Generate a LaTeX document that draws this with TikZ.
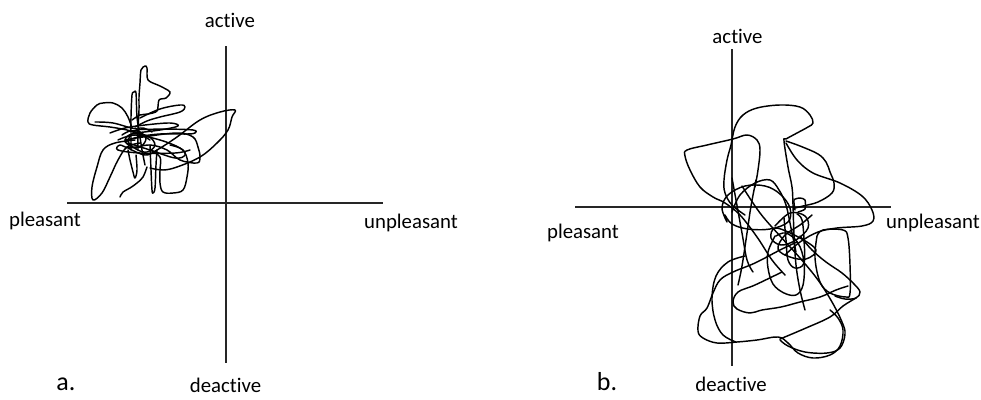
\documentclass[tikz,border=0pt]{standalone}
\usepackage{fontspec}
\setmainfont[Ligatures=NoCommon]{Carlito}
\begin{document}
\begin{tikzpicture}[x=1pt,y=-1pt,
  axisline/.style={line width=1.6pt,black!85},
  scrib/.style={line width=1.45pt,black,line join=round,line cap=round},
  lbl/.style={anchor=base,inner sep=0pt,font=\fontsize{20.8}{24}\selectfont},
  tag/.style={anchor=base,inner sep=0pt,font=\fontsize{26}{28}\selectfont}]
\useasboundingbox (0,0) rectangle (981,399);
% ---------- panel a ----------
\coordinate (aT) at (226,46);
\coordinate (aB) at (226,363);
\coordinate (aL) at (67,203);
\coordinate (aR) at (383,203);
\draw[axisline] (aT) -- (aB);
\draw[axisline] (aL) -- (aR);
\node[lbl] (aact) at (230,27) {active};
\node[lbl] (aple) at (45,226) {pleasant};
\node[lbl] (aunp) at (411,228) {unpleasant};
\node[lbl] (adea) at (225.5,392) {deactive};
\node[tag] (alab) at (66,390) {a.};
\begin{scope}[scrib]
\draw plot[smooth,tension=0.6] coordinates {(132,128) (128,117) (122,108) (113,103) (103,103) (97,105) (90,113) (88,122) (93,125) (110,127) (127,130) (140,134) (150,140)};
\draw plot[smooth,tension=0.6] coordinates {(95,122) (113,123) (137,129) (165,129) (193,130) (195,133) (187,134) (160,134) (138,137) (125,142)};
\draw plot[smooth,tension=0.5] coordinates {(138,150) (138,130) (139,110) (139,97) (140,83) (141,70) (145,66) (147,68) (148,80) (160,86) (170,92) (166,98) (159,100) (157,111) (148,114) (140,115) (132,120)};
\draw plot[smooth,tension=0.5] coordinates {(131,150) (131,137) (131,117) (132,95) (134,92) (136,93) (137,117) (140,137) (142,150) (145,165)};
\draw plot[smooth,tension=0.6] coordinates {(140,118) (160,109) (180,105) (185,107) (180,112) (160,117) (147,121) (135,127)};
\draw plot[smooth,tension=0.6] coordinates {(128,148) (145,155) (157,150) (177,137) (200,120) (220,112) (235,110) (232,117) (228,130) (217,143) (200,157) (177,167) (163,170) (150,168)};
\draw plot[smooth,tension=0.6] coordinates {(125,140) (143,137) (177,133) (193,137) (198,147) (200,157) (197,163) (180,160) (167,150) (150,145) (130,148) (120,145) (118,150) (140,153) (175,153) (190,150)};
\draw plot[smooth,tension=0.6] coordinates {(150,150) (160,157) (160,170) (160,183) (163,192) (173,193) (183,190) (187,177) (188,163) (183,150) (170,145)};
\draw plot[smooth,tension=0.6] coordinates {(135,140) (115,143) (103,150) (97,167) (92,187) (93,200) (102,193) (110,177) (118,160) (127,147) (140,143)};
\draw plot[smooth,tension=0.6] coordinates {(120,197) (123,192) (130,188) (137,183) (143,177) (147,167)};
\draw plot[smooth,tension=0.6] coordinates {(150,145) (151,170) (152,190) (153,193) (155,188) (156,165) (157,150)};
\draw plot[smooth,tension=0.6] coordinates {(128,150) (130,160) (133,172) (135,178) (137,170) (136,155)};
\draw plot[smooth,tension=0.6] coordinates {(122,135) (130,131) (140,132) (146,139) (140,147) (130,146) (125,140) (132,134) (148,136) (155,145) (147,152) (136,149) (128,140) (140,128) (152,132)};
\draw plot[smooth,tension=0.6] coordinates {(118,140) (135,135) (160,140) (180,148) (185,155) (175,158) (150,150) (128,143)};
\draw plot[smooth,tension=0.6] coordinates {(110,133) (125,128) (145,125) (170,123) (178,126) (160,130) (135,133)};
\end{scope}
% ---------- panel b ----------
\coordinate (bT) at (731.7,49);
\coordinate (bB) at (731.7,366);
\coordinate (bL) at (575,206.7);
\coordinate (bR) at (891,206.7);
\draw[axisline] (bT) -- (bB);
\draw[axisline] (bL) -- (bR);
\node[lbl] (bact) at (737.5,43) {active};
\node[lbl] (bple) at (583,238) {pleasant};
\node[lbl] (bunp) at (933,228) {unpleasant};
\node[lbl] (bdea) at (731,391) {deactive};
\node[tag] (blab) at (607,390) {b.};
\begin{scope}[scrib]
\draw plot[smooth,tension=0.6] coordinates {(745,215) (732,205) (725,193) (724,180) (727,160) (731,145) (735,127) (743,115) (757,108) (780,105) (800,107) (810,115) (813,123) (808,127) (797,133) (786,139) (784,141) (788,167) (792,187) (793,205) (794,235) (796,265) (800,290) (805,310)};
\draw plot[smooth,tension=0.6] coordinates {(786,141) (800,146) (818,154) (826,162) (830,172) (834,183) (832,193) (818,202) (803,206) (795,208)};
\draw plot[smooth,tension=0.6] coordinates {(786,143) (797,160) (813,173) (840,183) (862,196) (872,210) (873,221) (862,226) (837,228) (818,232) (800,242) (785,255)};
\draw plot[smooth,tension=0.6] coordinates {(755,187) (758,170) (760,150) (757,140) (747,135) (733,139) (707,145) (687,150) (685,156) (690,170) (700,187) (713,197) (725,203) (740,215) (757,237) (772,260) (785,275)};
\draw plot[smooth,tension=0.6] coordinates {(727,222) (722,208) (728,195) (745,186) (765,186) (780,194) (790,208) (788,222) (770,229) (748,229) (732,224) (725,215)};
\draw plot[smooth,tension=0.6] coordinates {(732,212) (740,195) (755,183) (770,180) (779,190) (786,205) (791,228) (796,252)};
\draw plot[smooth,tension=0.6] coordinates {(775,226) (790,213) (805,216) (808,228) (796,240) (781,245) (771,238) (776,228) (800,238) (816,250) (806,259) (790,257) (778,249) (785,235) (800,225) (812,215)};
\draw plot[smooth,tension=0.4] coordinates {(795,210) (794,200) (800,198) (805,200) (805,209) (798,212)};
\draw plot[smooth,tension=0.6] coordinates {(784,218) (786,240) (788,260) (795,268) (804,263) (804,240) (802,220) (797,214)};
\draw plot[smooth,tension=0.6] coordinates {(775,236) (768,252) (768,268) (773,284) (784,293) (796,295) (803,285) (804,262) (798,243) (786,233) (776,236)};
\draw plot[smooth,tension=0.6] coordinates {(817,236) (823,230) (843,230) (848,238) (850,265) (850,293) (846,297) (830,293) (820,282) (815,258) (817,236)};
\draw plot[smooth,tension=0.6] coordinates {(800,236) (812,250) (826,262) (842,273) (854,284) (860,292) (856,298) (845,299) (835,296)};
\draw plot[smooth,tension=0.6] coordinates {(742,186) (760,213) (780,236) (800,258) (818,280) (832,302) (842,322) (845,334) (840,348) (827,353) (805,352) (788,346) (780,340)};
\draw plot[smooth,tension=0.6] coordinates {(797,242) (780,250) (755,263) (733,272) (720,280) (713,293) (707,308) (700,316) (698,331) (703,338) (717,343) (737,342) (757,340) (778,337) (788,343) (798,353) (813,358) (830,355) (840,346) (843,330) (838,318) (830,310)};
\draw plot[smooth,tension=0.6] coordinates {(782,272) (755,285) (738,292) (733,302) (737,309) (750,313) (762,310) (781,307) (800,302) (820,297) (836,290) (848,286)};
\draw plot[smooth,tension=0.6] coordinates {(780,339) (806,328) (830,317) (843,306) (856,298)};
\draw plot[smooth,tension=0.6] coordinates {(745,256) (728,262) (716,276) (712,298) (715,320) (723,335) (736,342)};
\draw plot[smooth,tension=0.6] coordinates {(732,178) (736,200) (742,233) (747,260) (753,272)};
\draw plot[smooth,tension=0.6] coordinates {(756,180) (751,206) (747,233) (742,266) (738,285)};
\end{scope}
\end{tikzpicture}
\end{document}
